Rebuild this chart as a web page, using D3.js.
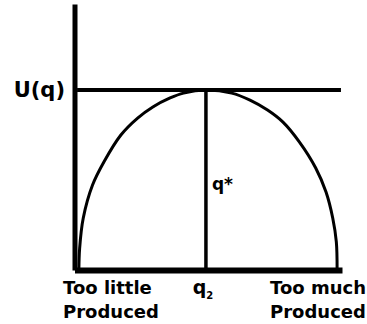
<!DOCTYPE html>
<html>
<head>
<meta charset="utf-8">
<script src="https://cdn.jsdelivr.net/npm/d3@7"></script>
<style>
  html, body { margin: 0; padding: 0; background: #fff; }
  svg text { font-family: "DejaVu Sans", sans-serif; font-weight: bold; fill: #000; }
</style>
</head>
<body>
<svg id="chart" width="367" height="324"></svg>
<script>
// Utility curve: quantity produced vs. utility
const quantity = [1.7, 2.0, 3.4, 7.0, 11.4, 18.0, 24.5, 30.4, 37.1, 42.3, 51.0,
                  61.0, 68.1, 74.9, 80.9, 87.3, 93.6, 97.6, 100.2, 101.6, 101.9];
const utility  = [0, 12.2, 28.9, 47.2, 60.0, 75.0, 84.4, 90.6, 95.6, 98.3, 100,
                  98.3, 94.4, 88.9, 82.2, 71.1, 56.7, 43.3, 28.9, 15.6, 0];
const maxUtility = 100;      // U(q) level
const optimalQ = 51.0;       // q* where utility peaks
const qRange = [0, 103.8];
const uRange = [0, 147.8];
const yLabel = "U(q)";
const starLabel = "q*";
const optimalLabel = "q";
const optimalSub = "2";
const leftLabel = ["Too little", "Produced"];
const rightLabel = ["Too much", "Produced"];

const svg = d3.select("#chart");

const x = d3.scaleLinear().domain(qRange).range([74.5, 342]);
const y = d3.scaleLinear().domain(uRange).range([270, 4]);

// axes: bare thick lines, no ticks
const xAxis = svg.append("g")
  .attr("transform", `translate(0,${y(0)})`)
  .call(d3.axisBottom(x).tickValues([]).tickSizeOuter(0));
xAxis.select(".domain").attr("stroke", "#000").attr("stroke-width", 6);

const yAxis = svg.append("g")
  .attr("transform", `translate(${x(0)},0)`)
  .call(d3.axisLeft(y).tickValues([]).tickSizeOuter(0));
yAxis.select(".domain").attr("stroke", "#000").attr("stroke-width", 5);

// U(q) level line
svg.append("line")
  .attr("x1", x(1)).attr("x2", x(103.4))
  .attr("y1", y(maxUtility)).attr("y2", y(maxUtility))
  .attr("stroke", "#000").attr("stroke-width", 4);

// q* drop line
svg.append("line")
  .attr("x1", x(optimalQ)).attr("x2", x(optimalQ))
  .attr("y1", y(maxUtility)).attr("y2", y(0))
  .attr("stroke", "#000").attr("stroke-width", 3.5);

// utility curve
const pts = quantity.map((q, i) => [q, utility[i]]);
svg.append("path")
  .datum(pts)
  .attr("fill", "none")
  .attr("stroke", "#000")
  .attr("stroke-width", 3)
  .attr("d", d3.line().x(d => x(d[0])).y(d => y(d[1])).curve(d3.curveCatmullRom.alpha(0.5)));

// labels
svg.append("text")
  .attr("x", 65).attr("y", y(maxUtility) + 7)
  .attr("text-anchor", "end")
  .attr("font-size", 21)
  .text(yLabel);

svg.append("text")
  .attr("x", x(optimalQ) + 6).attr("y", 190)
  .attr("font-size", 17)
  .text(starLabel);

const qt = svg.append("text")
  .attr("x", x(optimalQ) - 3).attr("y", 294)
  .attr("text-anchor", "middle")
  .attr("font-size", 19);
qt.append("tspan").text(optimalLabel);
qt.append("tspan").attr("font-size", 10).attr("dy", 5).text(optimalSub);

function twoLine(lines, xPos) {
  const t = svg.append("text").attr("font-size", 18);
  lines.forEach((s, i) => {
    t.append("tspan").attr("x", xPos).attr("y", 294 + i * 24).text(s);
  });
}
twoLine(leftLabel, 63);
twoLine(rightLabel, 270);
</script>
</body>
</html>
